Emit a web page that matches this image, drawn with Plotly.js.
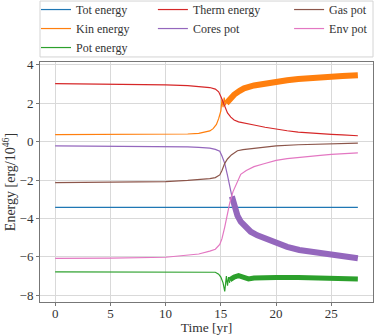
<!DOCTYPE html>
<html>
<head>
<meta charset="utf-8">
<script src="https://cdn.plot.ly/plotly-3.0.1.min.js"></script>
<style>
  html, body { margin: 0; padding: 0; background: #fff; }
  #plot { width: 374px; height: 335px; }
</style>
</head>
<body>
<div id="plot"></div>
<script>
// values (time in yr, energy in 1e46 erg)
const totT = [0, 27.4];
const totE = [-3.42, -3.42];

const kinT = [0, 5, 10, 12, 13, 13.5, 14, 14.3, 14.6, 14.8, 15.0, 15.1, 15.2, 15.3, 15.4, 15.5];
const kinE = [0.37, 0.37, 0.38, 0.40, 0.43, 0.48, 0.56, 0.68, 0.9, 1.2, 1.6, 2.2, 1.8, 2.3, 1.9, 2.05];
const kinBandT = [15.5, 15.8, 16.2, 16.7, 17.1, 18, 19, 20, 21, 22, 23, 24, 25, 26, 27.4];
const kinBandE = [2.0, 2.2, 2.45, 2.65, 2.78, 2.93, 3.04, 3.12, 3.2, 3.27, 3.32, 3.36, 3.39, 3.42, 3.46];

const potT = [0, 5, 10, 13, 14, 14.5, 14.8, 15.0, 15.2, 15.35, 15.5, 15.6, 15.7, 15.8];
const potE = [-6.78, -6.78, -6.77, -6.77, -6.77, -6.8, -6.9, -7.05, -7.35, -7.8, -7.0, -7.5, -7.05, -7.35];
const potBandT = [15.8, 16.2, 16.6, 17.0, 17.5, 18, 19, 20, 22, 24, 26, 27.4];
const potBandE = [-7.2, -7.05, -6.98, -7.05, -7.15, -7.1, -7.07, -7.07, -7.08, -7.1, -7.12, -7.15];

const thermT = [0, 5, 10, 12, 13, 14, 14.5, 14.8, 15.0, 15.2, 15.4, 15.6, 15.9, 16.2, 16.6, 17.1, 18, 19, 20, 21, 22, 23, 24, 25, 26, 27.4];
const thermE = [3.02, 3.0, 2.96, 2.92, 2.88, 2.82, 2.74, 2.6, 2.35, 2.05, 1.75, 1.5, 1.28, 1.13, 1.03, 0.96, 0.87, 0.75, 0.65, 0.57, 0.5, 0.45, 0.41, 0.38, 0.35, 0.31];

const coresT = [0, 5, 10, 12, 13, 14, 14.5, 14.9, 15.1, 15.35, 15.6, 15.8, 16.0];
const coresE = [-0.22, -0.23, -0.25, -0.27, -0.3, -0.34, -0.4, -0.5, -0.75, -1.13, -1.75, -2.34, -2.85];
const coresBandT = [16.0, 16.2, 16.5, 16.8, 17.2, 17.7, 18.3, 18.9, 19.9, 21, 22.1, 23.5, 25, 26.2, 27.4];
const coresBandE = [-2.85, -3.39, -3.85, -4.17, -4.45, -4.69, -4.88, -5.03, -5.29, -5.48, -5.64, -5.76, -5.87, -5.97, -6.07];

const gasT = [0, 5, 10, 12, 13, 14, 14.5, 14.9, 15.1, 15.35, 15.6, 15.95, 16.5, 17.0, 18, 19, 20, 22, 24, 26, 27.4];
const gasE = [-2.13, -2.12, -2.08, -2.02, -1.98, -1.92, -1.87, -1.73, -1.5, -1.13, -0.9, -0.69, -0.47, -0.41, -0.35, -0.28, -0.22, -0.16, -0.12, -0.1, -0.08];

const envT = [0, 5, 10, 12, 13, 14, 14.5, 14.9, 15.1, 15.35, 15.6, 15.8, 16.1, 16.4, 16.8, 17.3, 18, 18.9, 20, 21, 22.5, 24, 25, 26.2, 27.4];
const envE = [-6.08, -6.07, -6.02, -5.93, -5.85, -5.7, -5.6, -5.35, -5.05, -4.45, -3.8, -3.2, -2.6, -2.17, -1.7, -1.5, -1.3, -1.15, -0.97, -0.88, -0.78, -0.71, -0.66, -0.62, -0.58];

const names = ['Tot energy', 'Kin energy', 'Pot energy', 'Therm energy', 'Cores pot', 'Gas pot', 'Env pot'];
const colors = ['#1f77b4', '#ff7f0e', '#2ca02c', '#d62728', '#9467bd', '#8c564b', '#e377c2'];
// legend column for each series (3 columns like the matplotlib legend)
const legendCol = ['legend', 'legend', 'legend', 'legend2', 'legend2', 'legend3', 'legend3'];

const series = [
    [totT, totE, null, null],
    [kinT, kinE, kinBandT, kinBandE],
    [potT, potE, potBandT, potBandE],
    [thermT, thermE, null, null],
    [coresT, coresE, coresBandT, coresBandE],
    [gasT, gasE, null, null],
    [envT, envE, null, null]
];
const bandWidth = [0, 6, 5, 0, 6, 0, 0];

const data = [];
series.forEach((s, i) => {
    data.push({
        x: s[0], y: s[1], type: 'scatter', mode: 'lines',
        name: names[i], legend: legendCol[i],
        line: { color: colors[i], width: 1.2 }
    });
    if (s[2]) {
        // fast oscillations render as a thick band
        data.push({
            x: s[2], y: s[3], type: 'scatter', mode: 'lines',
            name: names[i], showlegend: false,
            line: { color: colors[i], width: bandWidth[i] }
        });
    }
});

const FONT = 'Liberation Serif';
const TXT = '#333';

const axisStyle = {
    showgrid: true,
    gridcolor: '#d9d9d9',
    gridwidth: 1,
    zeroline: false,
    showline: true,
    mirror: true,
    linecolor: '#777',
    linewidth: 1,
    ticks: 'outside',
    ticklen: 3,
    tickcolor: '#777',
    tickfont: { family: FONT, size: 13, color: TXT }
};

const legendStyle = (x) => ({
    orientation: 'v',
    x: x, xanchor: 'left',
    y: 1.279, yanchor: 'top',
    bgcolor: 'rgba(0,0,0,0)',
    borderwidth: 0,
    tracegroupgap: 0,
    font: { family: FONT, size: 12, color: TXT }
});

Plotly.newPlot('plot', data, {
    width: 374,
    height: 335,
    margin: { l: 40, r: 1, t: 62, b: 33, autoexpand: false },
    font: { family: FONT, size: 13, color: TXT },
    paper_bgcolor: '#fff',
    plot_bgcolor: '#fff',
    xaxis: Object.assign({}, axisStyle, {
        range: [-1.37, 28.77],
        dtick: 5,
        ticklabelstandoff: -4,
        title: { text: 'Time [yr]', standoff: 2, font: { family: FONT, size: 13.5, color: TXT } }
    }),
    yaxis: Object.assign({}, axisStyle, {
        range: [-8.35, 4.15],
        dtick: 2,
        title: { text: 'Energy [erg/10<sup>46</sup>]', standoff: 4, font: { family: FONT, size: 14, color: TXT } }
    }),
    showlegend: true,
    legend: legendStyle(-0.012),
    legend2: legendStyle(0.339),
    legend3: legendStyle(0.748),
    shapes: [{
        type: 'rect', xref: 'paper', yref: 'paper',
        x0: 0, x1: 1, y0: 1.021, y1: 1.254,
        line: { color: '#d4d4d4', width: 1 },
        fillcolor: 'rgba(0,0,0,0)',
        layer: 'above'
    }]
}, { displayModeBar: false });
</script>
</body>
</html>
